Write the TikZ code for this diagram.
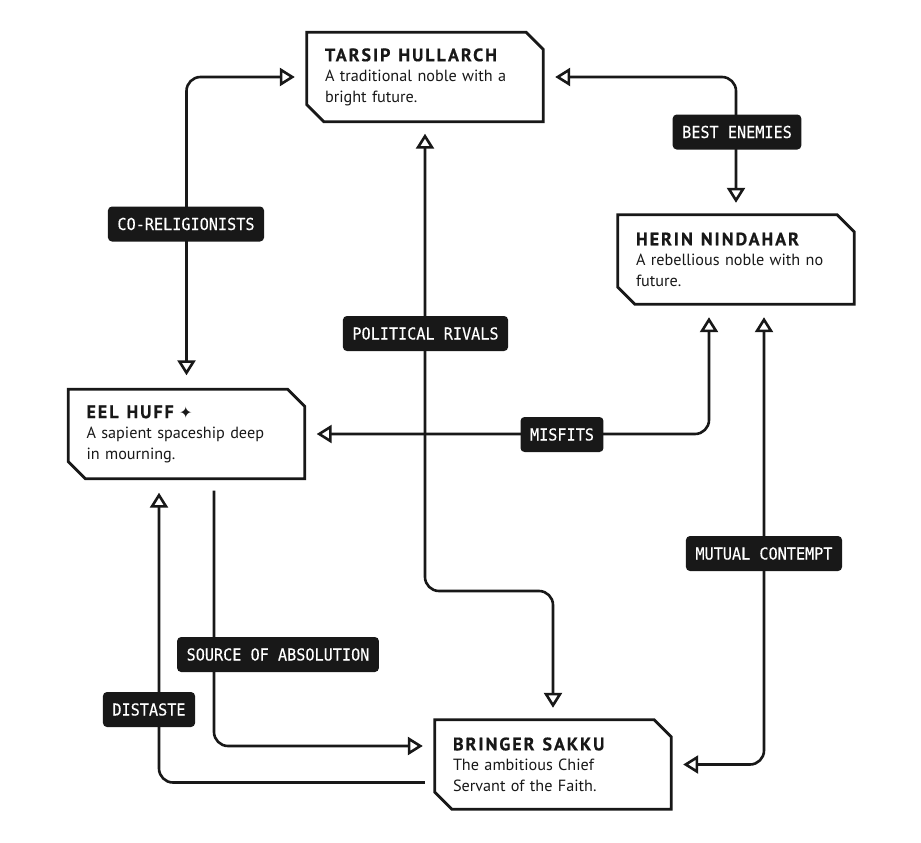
\documentclass[tikz,border=0pt]{standalone}
\usepackage{fontspec}
\setmainfont{PT Sans}
\newfontfamily\headfont[LetterSpace=11,FakeBold=0.6]{PT Sans}
\newfontfamily\tagfont[FakeStretch=0.92,FakeBold=0.3]{DejaVu Sans Mono}
\newfontfamily\symfont{DejaVu Sans}
\usetikzlibrary{arrows.meta,calc}
\definecolor{ink}{RGB}{24,24,24}
\tikzset{
  box/.style={rectangle, draw=none, minimum width=236pt, minimum height=89pt,
    text width=200pt, inner xsep=18pt, inner ysep=0pt, align=left, text=ink,
    font=\fontsize{16.2}{20.5}\selectfont},
  outline/.style={draw=ink, line width=2.8pt, line join=miter},
  link/.style={draw=ink, line width=2.6pt, rounded corners=14pt},
  tag/.style={fill=ink, text=white, rounded corners=4pt,
    font=\tagfont\fontsize{16.5}{16.5}\selectfont,
    inner xsep=9.5pt, inner ysep=0pt, minimum height=35pt,
    text height=12pt, text depth=0pt},
  >={Triangle[open,length=15pt,width=18pt]}
}
\newcommand{\hd}[1]{{\headfont\bfseries\fontsize{18}{20.5}\selectfont\spaceskip=8pt\relax #1}}
\begin{document}
\begin{tikzpicture}[x=1pt,y=-1pt]
\useasboundingbox[fill=white] (0,0) rectangle (921,843);

\node[box] (tarsip) at (425,77) {\hd{TARSIP HULLARCH}\\A traditional noble with a\\bright future.};
\node[box] (herin) at (736,259.5) {\hd{HERIN NINDAHAR}\\A rebellious noble with no\\future.};
\node[box] (eel) at (186.5,434) {\hd{EEL HUFF} {\symfont\fontsize{16}{16}\selectfont ✦}\\A sapient spaceship deep\\in mourning.};
\node[box] (bringer) at (553,764.5) {\hd{BRINGER SAKKU}\\The ambitious Chief\\Servant of the Faith.};

\foreach \n in {tarsip,herin,eel,bringer}{
  \draw[outline] (\n.north west) -- ([xshift=-17pt]\n.north east)
    -- ([yshift=-17pt]\n.north east) -- (\n.south east)
    -- ([xshift=17pt]\n.south west) -- ([yshift=17pt]\n.south west) -- cycle;
}

\coordinate (prmid) at (490,591);
\draw[link,<->,shorten <=14pt,shorten >=12pt] (eel.north) |- (tarsip.west);
\draw[link,<->,shorten <=12pt,shorten >=12pt] (tarsip.east) -| (herin.north);
\draw[link,<->,shorten <=12pt,shorten >=12pt] (tarsip.south) |- (prmid) -| (bringer.north);
\draw[link,<->,shorten <=13pt,shorten >=12pt] ([xshift=-27pt]herin.south) |- (eel.east);
\draw[link,<->,shorten <=13pt,shorten >=12pt] ([xshift=28pt]herin.south) |- (bringer.east);
\draw[link,->,shorten <=12pt,shorten >=12pt] ([xshift=27.5pt]eel.south) |- ([yshift=18.5pt]bringer.west);
\draw[link,->,shorten <=10pt,shorten >=14pt] ([yshift=-18pt]bringer.west) -| ([xshift=-27.5pt]eel.south);

\node[tag] (lco) at (186,224) {CO-RELIGIONISTS};
\node[tag] (lbe) at (737,132) {BEST ENEMIES};
\node[tag] (lpr) at (425.5,333.5) {POLITICAL RIVALS};
\node[tag] (lmi) at (562,434.5) {MISFITS};
\node[tag] (lmc) at (764,553.5) {MUTUAL CONTEMPT};
\node[tag] (lsa) at (278,654.5) {SOURCE OF ABSOLUTION};
\node[tag] (ldi) at (149,709.5) {DISTASTE};
\end{tikzpicture}
\end{document}
